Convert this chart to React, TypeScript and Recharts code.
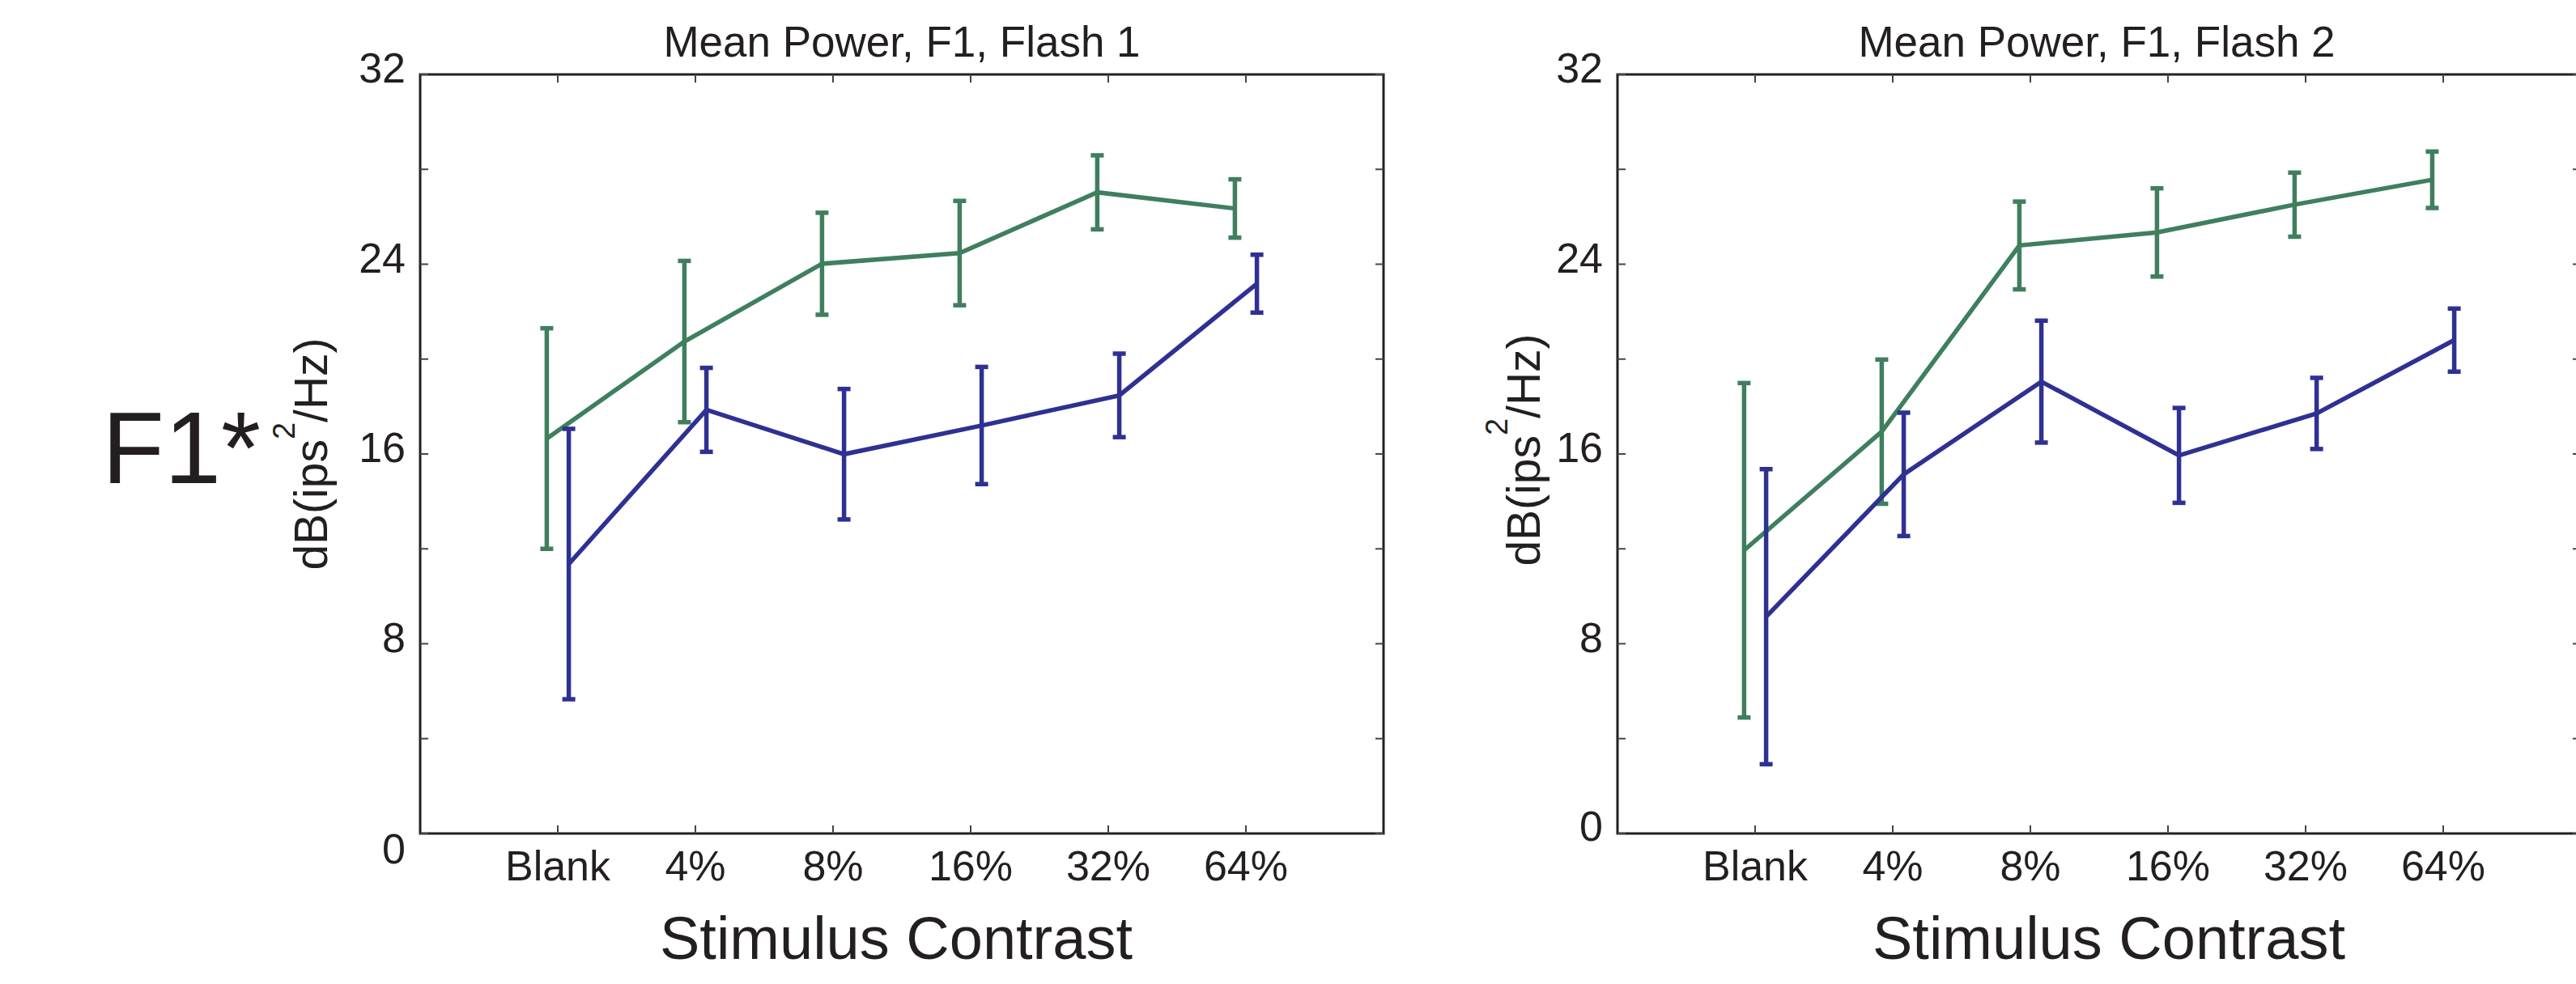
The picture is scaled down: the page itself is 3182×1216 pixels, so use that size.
import React from "react";
import { LineChart, Line, XAxis, YAxis, ErrorBar, ReferenceArea } from "recharts";

const categories = ["Blank", "4%", "8%", "16%", "32%", "64%"];
const yTicks = [0, 4, 8, 12, 16, 20, 24, 28, 32];

// Flash 1
const flash1Green = [16.65, 20.74, 24.02, 24.47, 27.03, 26.35];
const flash1GreenErr = [4.65, 3.4, 2.15, 2.2, 1.56, 1.23];
const flash1Blue = [11.36, 17.86, 15.99, 17.2, 18.47, 23.18];
const flash1BlueErr = [5.7, 1.77, 2.75, 2.47, 1.76, 1.22];

// Flash 2
const flash2Green = [11.94, 16.94, 24.79, 25.34, 26.51, 27.56];
const flash2GreenErr = [7.05, 3.04, 1.85, 1.86, 1.35, 1.19];
const flash2Blue = [9.14, 15.14, 19.05, 15.94, 17.71, 20.8];
const flash2BlueErr = [6.22, 2.6, 2.57, 2.0, 1.5, 1.33];

const GREEN = "#3f7f5e";
const BLUE = "#2e3192";
const INK = "#231f20";
const FONT = "'Liberation Sans', Arial, sans-serif";

const PLOT_W = 1190;
const PLOT_H = 938;
const PLOT_TOP = 92;

// green points sit a bit left of the category, blue a bit right
const toPoints = (vals: number[], errs: number[], shift: number) =>
  vals.map((v, i) => ({ x: i + 1 + shift, y: v, e: errs[i] }));

function makeXTick(props: any) {
  const { x, y, payload } = props;
  return (
    <g>
      <line x1={x} x2={x} y1={y} y2={y - 10} stroke="#444" strokeWidth={2} />
      <line x1={x} x2={x} y1={y - PLOT_H} y2={y - PLOT_H + 10} stroke="#444" strokeWidth={2} />
      <text x={x} y={y + 58} textAnchor="middle" fontSize={52} fontFamily={FONT} fill={INK}>
        {categories[payload.value - 1]}
      </text>
    </g>
  );
}

function makeYTick(zeroShift: number) {
  return (props: any) => {
    const { x, y, payload } = props;
    const v = payload.value;
    return (
      <g>
        <line x1={x} x2={x + 10} y1={y} y2={y} stroke="#444" strokeWidth={2} />
        <line x1={x + PLOT_W - 10} x2={x + PLOT_W} y1={y} y2={y} stroke="#444" strokeWidth={2} />
        {v % 8 === 0 && (
          <text
            x={x - 18}
            y={v === 0 ? y + zeroShift : y - 8}
            textAnchor="end"
            dominantBaseline="central"
            fontSize={52}
            fontFamily={FONT}
            fill={INK}
          >
            {v}
          </text>
        )}
      </g>
    );
  };
}

function Panel({ left, width, plotLeft, green, greenErr, blue, blueErr, zeroShift }: any) {
  // axes are 1px wide/high (0 would stop recharts drawing them), so take it off the margins
  return (
    <div style={{ position: "absolute", left, top: 0 }}>
      <LineChart
        width={width}
        height={1216}
        margin={{
          top: PLOT_TOP,
          left: plotLeft - 1,
          right: width - plotLeft - PLOT_W,
          bottom: 1216 - PLOT_TOP - PLOT_H - 1,
        }}
      >
        <XAxis
          type="number"
          dataKey="x"
          domain={[0, 7]}
          ticks={[1, 2, 3, 4, 5, 6]}
          interval={0}
          height={1}
          tickSize={0}
          tickMargin={0}
          axisLine={false}
          tickLine={false}
          tick={makeXTick}
          allowDataOverflow
        />
        <YAxis
          type="number"
          domain={[0, 32]}
          ticks={yTicks}
          interval={0}
          width={1}
          tickSize={0}
          tickMargin={0}
          axisLine={false}
          tickLine={false}
          tick={makeYTick(zeroShift)}
          allowDataOverflow
        />
        <ReferenceArea x1={0} x2={7} y1={0} y2={32} fill="none" stroke={INK} strokeWidth={3} />
        <Line
          data={toPoints(green, greenErr, -0.08)}
          dataKey="y"
          stroke={GREEN}
          strokeWidth={5.5}
          dot={false}
          isAnimationActive={false}
        >
          <ErrorBar dataKey="e" direction="y" width={8} stroke={GREEN} strokeWidth={5.5} />
        </Line>
        <Line
          data={toPoints(blue, blueErr, 0.08)}
          dataKey="y"
          stroke={BLUE}
          strokeWidth={5.5}
          dot={false}
          isAnimationActive={false}
        >
          <ErrorBar dataKey="e" direction="y" width={8} stroke={BLUE} strokeWidth={5.5} />
        </Line>
      </LineChart>
    </div>
  );
}

function YLabel({ x, y }: { x: number; y: number }) {
  return (
    <text
      x={x}
      y={y}
      transform={`rotate(-90, ${x}, ${y})`}
      textAnchor="middle"
      fontSize={57}
      fontFamily={FONT}
      fill={INK}
    >
      dB(ips
      <tspan dy={-40} fontSize={38}>2</tspan>
      <tspan dy={40}>/Hz)</tspan>
    </text>
  );
}

export default function App() {
  return (
    <div
      style={{
        position: "absolute",
        left: 0,
        top: 0,
        width: 3182,
        height: 1216,
        overflow: "hidden",
        background: "#fff",
      }}
    >
      <Panel
        left={0}
        width={1800}
        plotLeft={519}
        green={flash1Green}
        greenErr={flash1GreenErr}
        blue={flash1Blue}
        blueErr={flash1BlueErr}
        zeroShift={19}
      />
      <Panel
        left={1800}
        width={1600}
        plotLeft={198}
        green={flash2Green}
        greenErr={flash2GreenErr}
        blue={flash2Blue}
        blueErr={flash2BlueErr}
        zeroShift={-9}
      />
      <svg
        width={3182}
        height={1216}
        style={{ position: "absolute", left: 0, top: 0, pointerEvents: "none" }}
      >
        <text x={126} y={597} fontSize={126} fontFamily={FONT} fill={INK}>
          F1*
        </text>
        <text x={1114} y={70} textAnchor="middle" fontSize={53} fontFamily={FONT} fill={INK}>
          Mean Power, F1, Flash 1
        </text>
        <text x={2590} y={70} textAnchor="middle" fontSize={53} fontFamily={FONT} fill={INK}>
          Mean Power, F1, Flash 2
        </text>
        <text x={1107} y={1185} textAnchor="middle" fontSize={74} fontFamily={FONT} fill={INK}>
          Stimulus Contrast
        </text>
        <text x={2605} y={1185} textAnchor="middle" fontSize={74} fontFamily={FONT} fill={INK}>
          Stimulus Contrast
        </text>
        <YLabel x={404} y={561} />
        <YLabel x={1902} y={556} />
      </svg>
    </div>
  );
}
